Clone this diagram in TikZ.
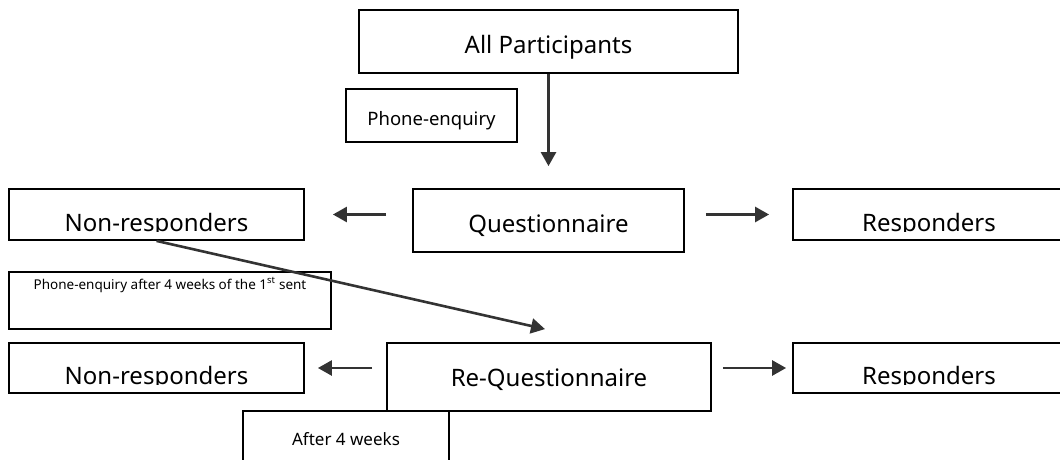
\documentclass[tikz,border=0pt]{standalone}
\usepackage{fontspec}
\setmainfont{Noto Sans}
\usetikzlibrary{arrows.meta, positioning}

\tikzset{
	flowbox/.style={draw, line width=1.8pt, inner sep=0pt, align=center, text depth=0pt, font=\fontsize{24}{28}\selectfont},
	notebox/.style={draw, line width=1.6pt, inner sep=0pt, align=center},
	cutbox/.style={flowbox, path picture={%
		\clip ([yshift=9pt]path picture bounding box.south west) rectangle (path picture bounding box.north east);
		\node[anchor=base, font=\fontsize{24}{28}\selectfont] at ([yshift=9pt]path picture bounding box.south) {#1};}},
	flowarrow/.style={line width=2.6pt, draw=black!80, -{Triangle[length=14pt, width=15pt]}}
}

\begin{document}
\begin{tikzpicture}[x=1pt, y=-1pt]
		\useasboundingbox (0,0) rectangle (1060,460);
		\clip (0,0) rectangle (1060,460);

		\node[flowbox, minimum width=379pt, minimum height=63pt, text height=23pt] (allp) at (548.5,41.5) {All Participants};
		\node[notebox, minimum width=171pt, minimum height=53pt, text height=19pt, text depth=0pt, font=\fontsize{18.5}{22}\selectfont] (phone1) at (431.5,115.5) {Phone-enquiry};

		\node[cutbox=Non-responders, minimum width=295pt, minimum height=51pt] (nonresp1) at (156.5,214.5) {};
		\node[flowbox, minimum width=271pt, minimum height=63pt, text height=23pt] (quest) at (548.5,220.5) {Questionnaire};
		\node[cutbox=Responders, minimum width=272pt, minimum height=51pt] (resp1) at (929,214.5) {};

		\node[notebox, minimum width=322pt, minimum height=57pt, text height=0pt, text depth=23pt, font=\fontsize{13.5}{16}\selectfont] (phone2) at (170,300.5) {Phone-enquiry after 4 weeks of the 1\textsuperscript{st} sent};

		\node[cutbox=Non-responders, minimum width=295pt, minimum height=50pt] (nonresp2) at (156.5,368) {};
		\node[flowbox, minimum width=324pt, minimum height=68pt, text height=18pt] (request) at (549,377) {Re-Questionnaire};
		\node[cutbox=Responders, minimum width=272pt, minimum height=50pt] (resp2) at (929,368) {};

		\node[notebox, minimum width=206pt, minimum height=60pt, text height=8pt, text depth=0pt, font=\fontsize{17}{20}\selectfont] (after) at (346,441) {After 4 weeks};

		\draw[flowarrow, shorten >=22pt] (allp) -- (quest);
		\draw[flowarrow, shorten <=26pt, shorten >=28pt] (quest.west |- nonresp1.east) -- (nonresp1.east);
		\draw[flowarrow, shorten <=21pt, shorten >=23pt] (quest.east |- resp1.west) -- (resp1.west);
		\draw[flowarrow] (nonresp1.south) -- ([xshift=-4pt, yshift=13pt]request.north);
		\draw[flowarrow, shorten <=14pt, shorten >=13pt] (request.west |- nonresp2.east) -- (nonresp2.east);
		\draw[flowarrow, shorten <=11pt, shorten >=6pt] (request.east |- resp2.west) -- (resp2.west);
	\end{tikzpicture}
\end{document}
